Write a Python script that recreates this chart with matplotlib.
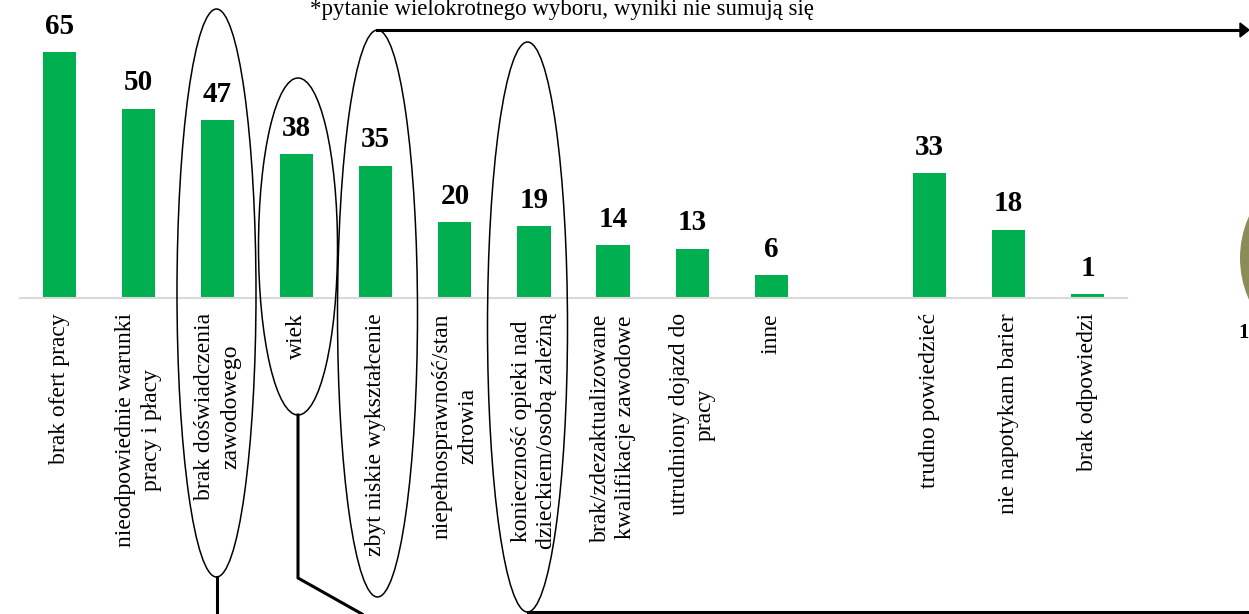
import matplotlib.pyplot as plt
from matplotlib.patches import Ellipse
from matplotlib.lines import Line2D

# Bariery w znalezieniu pracy (%)
kategorie = ['brak ofert pracy',
             'nieodpowiednie warunki\npracy i płacy',
             'brak doświadczenia\nzawodowego',
             'wiek',
             'zbyt niskie wykształcenie',
             'niepełnosprawność/stan\nzdrowia',
             'konieczność opieki nad\ndzieckiem/osobą zależną',
             'brak/zdezaktualizowane\nkwalifikacje zawodowe',
             'utrudniony dojazd do\npracy',
             'inne',
             'trudno powiedzieć',
             'nie napotykam barier',
             'brak odpowiedzi']
wartosci = [65, 50, 47, 38, 35, 20, 19, 14, 13, 6, 33, 18, 1]
pozycje = [0, 1, 2, 3, 4, 5, 6, 7, 8, 9, 11, 12, 13]

W, H = 1249, 614
plt.rcParams['font.family'] = ['Liberation Serif', 'DejaVu Serif']

fig = plt.figure(figsize=(W / 100, H / 100), dpi=100)
ax = fig.add_axes([20 / W, 1 - 298 / H, 1107 / W, 246 / H])

def fx(x):
    return x / W

def fy(y):
    return 1 - y / H

ax.bar(pozycje, wartosci, width=0.42, color='#00B050', zorder=2)
for x, v in zip(pozycje, wartosci):
    ax.annotate(str(v), (x, v), xytext=(0, 9), textcoords='offset points',
                ha='center', va='bottom', fontsize=21, fontweight='bold',
                annotation_clip=False)

ax.set_xlim(-0.5, 13.5)
ax.set_ylim(0, 65)
ax.set_xticks(pozycje)
ax.set_xticklabels(kategorie, rotation=90, fontsize=17, va='top', ha='center',
                   multialignment='center', linespacing=1.3)
ax.tick_params(axis='x', length=0, pad=11)
ax.set_yticks([])
for s in ['top', 'right', 'left']:
    ax.spines[s].set_visible(False)
ax.spines['bottom'].set_color('#D9D9D9')
ax.spines['bottom'].set_linewidth(1.5)

# Elipsy wyróżniające wybrane bariery
elipsy = [(216.5, 293, 79, 568), (298, 246.5, 79, 337),
          (377.5, 313.5, 80, 567), (527.5, 327, 80, 570)]
for cx, cy, w, h in elipsy:
    fig.add_artist(Ellipse((fx(cx), fy(cy)), w / W, h / H, fill=False,
                           edgecolor='black', linewidth=1.1,
                           transform=fig.transFigure))

# Linie łączące
linie = [([216.5, 216.5], [577, 614]),
         ([298, 298, 362], [415, 578, 614]),
         ([527.5, 1249], [612, 612])]
for xs, ys in linie:
    fig.add_artist(Line2D([fx(x) for x in xs], [fy(y) for y in ys],
                          color='black', linewidth=2.2,
                          transform=fig.transFigure))

fig.add_artist(Line2D([fx(377.5), fx(1244)], [fy(30), fy(30)], color='black',
                      linewidth=2.2, transform=fig.transFigure))
fig.add_artist(plt.Polygon([[fx(1240), fy(23)], [fx(1249), fy(30)],
                            [fx(1240), fy(37)]], closed=True, color='black',
                           transform=fig.transFigure))

# Fragment kolejnego wykresu
fig.add_artist(Ellipse((fx(1342), fy(258)), 204 / W, 204 / H,
                       facecolor='#8C8C5A', edgecolor='none',
                       transform=fig.transFigure))
fig.text(fx(1238), fy(333), '1', fontsize=15, fontweight='bold',
         ha='left', va='center')

fig.text(fx(310), fy(15), '*pytanie wielokrotnego wyboru, wyniki nie sumują się',
         fontsize=16.5, ha='left', va='baseline')

fig.savefig('out.png', dpi=100)
